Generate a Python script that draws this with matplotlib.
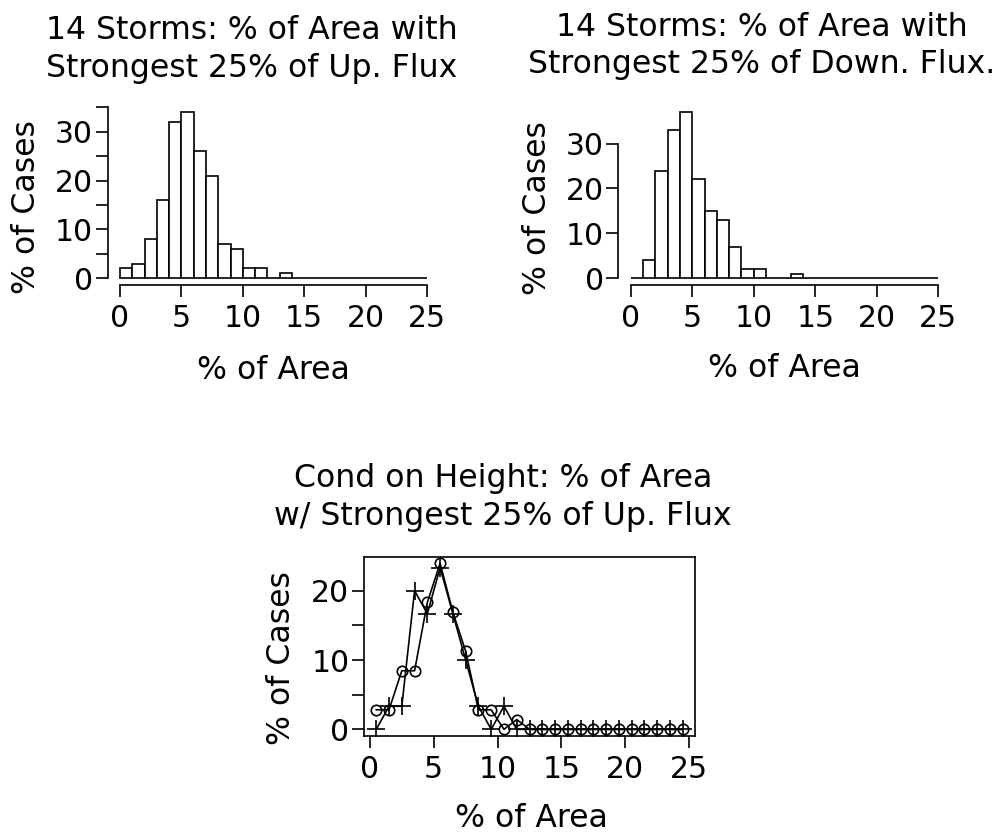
import matplotlib
matplotlib.use('Agg')
import matplotlib.pyplot as plt
import numpy as np

W, H = 1002, 832

# histogram bins: 0-1, 1-2, ..., 24-25 (% of area)
bin_edges = np.arange(0, 26, 1)

# % of cases per bin
up_flux = [2, 3, 8, 16, 32, 34, 26, 21, 7, 6, 2, 2, 0, 1,
           0, 0, 0, 0, 0, 0, 0, 0, 0, 0, 0]
down_flux = [0, 4, 24, 33, 37, 22, 15, 13, 7, 2, 2, 0, 0, 1,
             0, 0, 0, 0, 0, 0, 0, 0, 0, 0, 0]

# conditioned on height: bin mid-points and two curves
mids = np.arange(0.5, 25, 1)
cond_circle = [2.82, 2.82, 8.45, 8.45, 18.31, 23.94, 16.90, 11.27, 2.82, 2.82,
               0, 1.41, 0, 0, 0, 0, 0, 0, 0, 0, 0, 0, 0, 0, 0]
cond_plus = [0, 3.33, 3.33, 20.0, 16.67, 23.33, 16.67, 10.0, 3.33, 0,
             3.33, 0, 0, 0, 0, 0, 0, 0, 0, 0, 0, 0, 0, 0, 0]

FS = 21.5      # tick labels
FS_TXT = 22.7  # titles and axis labels
LW = 1.2
plt.rcParams['font.family'] = 'DejaVu Sans'
plt.rcParams['font.size'] = FS


def box(left, top, right, bottom):
    return [left / W, 1 - bottom / H, (right - left) / W, (bottom - top) / H]


def ftext(x, y, s, **kw):
    fig.text(x / W, 1 - y / H, s, fontsize=FS_TXT, **kw)


def style_axis(ax, ymax, label_every=10):
    ax.tick_params(direction='out', length=8.5, width=LW, labelsize=FS)
    ax.tick_params(axis='x', pad=5)
    ax.tick_params(axis='y', pad=2)
    yt = np.arange(0, ymax + 1, 5)
    ax.set_yticks(yt)
    ax.set_yticklabels([str(int(v)) if v % label_every == 0 else '' for v in yt])
    ax.set_xticks(np.arange(0, 26, 5))
    for s in ax.spines.values():
        s.set_linewidth(LW)


def hist_panel(rect, values, ymax, ystep):
    ax = fig.add_axes(rect)
    ax.bar(bin_edges[:-1], values, width=1, align='edge', facecolor='white',
           edgecolor='black', linewidth=LW)
    top = max(values)
    ax.set_xlim(-1, 26)
    ax.set_ylim(-0.04 * top, top * 1.04)
    style_axis(ax, ymax, ystep)
    if ymax == 30:
        ax.set_yticks([0, 10, 20, 30])
        ax.set_yticklabels(['0', '10', '20', '30'])
    ax.spines['top'].set_visible(False)
    ax.spines['right'].set_visible(False)
    ax.spines['left'].set_bounds(0, ymax)
    ax.spines['bottom'].set_bounds(0, 25)
    return ax


fig = plt.figure(figsize=(W / 100, H / 100), dpi=100)

# upward flux histogram
hist_panel(box(107.7, 105.5, 439.3, 284.9), up_flux, 35, 10)
ftext(252, 39.3, '14 Storms: % of Area with', ha='center', va='baseline')
ftext(252, 76.7, 'Strongest 25% of Up. Flux', ha='center', va='baseline')
ftext(273, 379, '% of Area', ha='center', va='baseline')
ftext(27, 207, '% of Cases', ha='center', va='center', rotation=90)

# downward flux histogram
hist_panel(box(618.4, 105.5, 950.6, 284.9), down_flux, 30, 10)
ftext(762, 36, '14 Storms: % of Area with', ha='center', va='baseline')
ftext(762, 73.3, 'Strongest 25% of Down. Flux.', ha='center', va='baseline')
ftext(784, 376.7, '% of Area', ha='center', va='baseline')
ftext(537, 208, '% of Cases', ha='center', va='center', rotation=90)

# conditioned on height
ax3 = fig.add_axes(box(364, 556.7, 695, 736))
ax3.plot(mids, cond_circle, color='black', linewidth=LW, marker='o',
         markersize=7.5, markerfacecolor='none', markeredgewidth=LW)
ax3.plot(mids, cond_plus, color='black', linewidth=LW, marker='+',
         markersize=13, markeredgewidth=LW)
ax3.set_xlim(-0.46, 25.46)
ax3.set_ylim(-0.96, 24.9)
style_axis(ax3, 20, 10)
ftext(503, 487.3, 'Cond on Height: % of Area', ha='center', va='baseline')
ftext(503, 525, 'w/ Strongest 25% of Up. Flux', ha='center', va='baseline')
ftext(531, 826.7, '% of Area', ha='center', va='baseline')
ftext(282, 658.5, '% of Cases', ha='center', va='center', rotation=90)

fig.savefig('out.png', dpi=100)
